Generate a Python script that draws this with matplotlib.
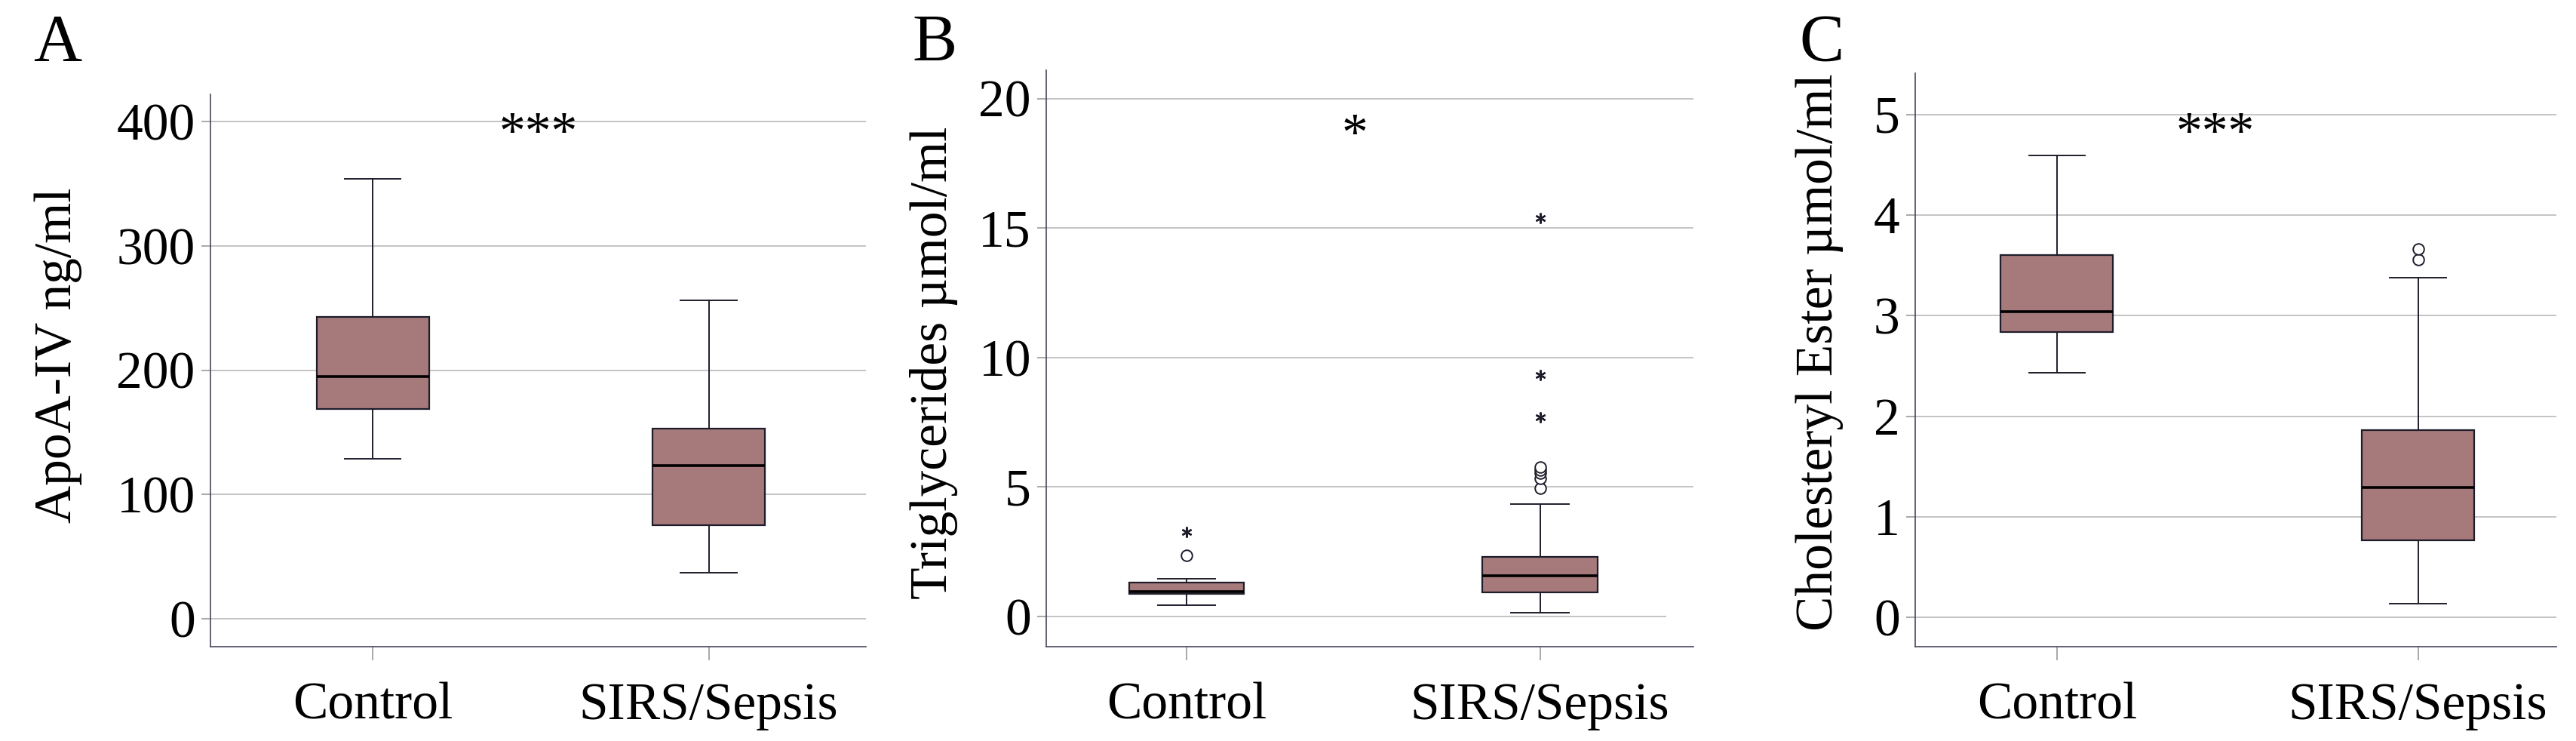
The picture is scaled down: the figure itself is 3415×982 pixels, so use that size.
import matplotlib.pyplot as plt

plt.rcParams['font.family'] = ['Liberation Serif', 'DejaVu Serif']

groups = ["Control", "SIRS/Sepsis"]

# five-number summaries: low whisker, Q1, median, Q3, high whisker
apoa_control = [129, 169, 195, 243, 354]
apoa_sepsis = [37, 75, 123, 153, 256]

tg_control = [0.43, 0.88, 0.97, 1.30, 1.46]
tg_sepsis = [0.15, 0.93, 1.57, 2.31, 4.34]
tg_control_out = [2.37]
tg_control_ext = [3.27]
tg_sepsis_out = [4.95, 5.33, 5.52, 5.65, 5.76]
tg_sepsis_ext = [7.69, 9.31, 15.38]

ce_control = [2.43, 2.84, 3.04, 3.60, 4.59]
ce_sepsis = [0.14, 0.77, 1.29, 1.86, 3.375]
ce_control_out = []
ce_sepsis_out = [3.56, 3.66]

box_color = "#a67a7b"
edge_color = "#1f1d2b"
grid_color = "#c4c4c4"
tick_color = "#a8a8a8"
spine_color = "#4a465c"


def stats(summary, fliers):
    lo, q1, med, q3, hi = summary
    return dict(whislo=lo, q1=q1, med=med, q3=q3, whishi=hi, fliers=fliers)


def panel(rect, summaries, outliers, extremes, ylim, yticks, ylabel,
          lab_xy, xlim, width, sig, sig_xy, letter, letter_x, zero_short=None):
    ax = fig.add_axes(rect)
    bxs = [stats(s, o) for s, o in zip(summaries, outliers)]
    ax.bxp(bxs, positions=[1, 2], widths=width, capwidths=width / 2,
           patch_artist=True, showfliers=True,
           boxprops=dict(facecolor=box_color, edgecolor=edge_color, linewidth=1.6),
           medianprops=dict(color="black", linewidth=2.6),
           whiskerprops=dict(color=edge_color, linewidth=1.4),
           capprops=dict(color=edge_color, linewidth=1.4),
           flierprops=dict(marker="o", markersize=10.5, markerfacecolor="white",
                           markeredgecolor=edge_color, markeredgewidth=1.4))
    for pos, ext in zip([1, 2], extremes):
        if ext:
            ax.plot([pos] * len(ext), ext, linestyle="none", marker=(6, 2, 0),
                    markersize=10, markeredgewidth=1.7, color=edge_color)
    for t in yticks:
        xmax = zero_short if (t == 0 and zero_short) else 1
        ax.axhline(t, xmax=xmax, color=grid_color, linewidth=1.4, zorder=0)
    ax.set_xlim(*xlim)
    ax.set_ylim(*ylim)
    ax.set_yticks(yticks)
    ax.set_xticks([1, 2])
    ax.set_xticklabels(groups)
    ax.tick_params(axis="y", labelsize=50, length=8.6, width=1.4,
                   color=tick_color, pad=6)
    ax.tick_params(axis="x", labelsize=50, length=13, width=1.4,
                   color=tick_color, pad=21)
    for s in ["top", "right"]:
        ax.spines[s].set_visible(False)
    for s in ["left", "bottom"]:
        ax.spines[s].set_color(spine_color)
        ax.spines[s].set_linewidth(1.2)
    ax.set_ylabel(ylabel, fontsize=50, va="center")
    ax.yaxis.set_label_coords(*lab_xy)
    ax.text(sig_xy[0], sig_xy[1], sig, fontsize=50, ha="center", va="baseline")
    fig.text(letter_x, 0.9185, letter, fontsize=64, ha="left", va="baseline")
    return ax


fig = plt.figure(figsize=(34.15, 9.82), dpi=100)

panel([0.0817, 0.1273, 0.2545, 0.7454], [apoa_control, apoa_sepsis],
      [[], []], [[], []], (-22.5, 422), [0, 100, 200, 300, 400],
      "ApoA-IV ng/ml", (-0.232, 0.527), (0.517, 2.468), 0.334,
      "***", (1.494, 379), "A", 0.0129)

panel([0.4062, 0.1273, 0.2512, 0.778], [tg_control, tg_sepsis],
      [tg_control_out, tg_sepsis_out], [tg_control_ext, tg_sepsis_ext],
      (-1.17, 21.1), [0, 5, 10, 15, 20],
      "Triglycerides µmol/ml", (-0.174, 0.493), (0.604, 2.434), 0.325,
      "*", (1.477, 18.05), "B", 0.3543, zero_short=0.957)

panel([0.7435, 0.1273, 0.2489, 0.774], [ce_control, ce_sepsis],
      [ce_control_out, ce_sepsis_out], [[], []], (-0.29, 5.41),
      [0, 1, 2, 3, 4, 5],
      "Cholesteryl Ester µmol/ml", (-0.149, 0.514), (0.608, 2.383), 0.311,
      "***", (1.439, 4.67), "C", 0.6984)

fig.savefig("out.png", dpi=100)
